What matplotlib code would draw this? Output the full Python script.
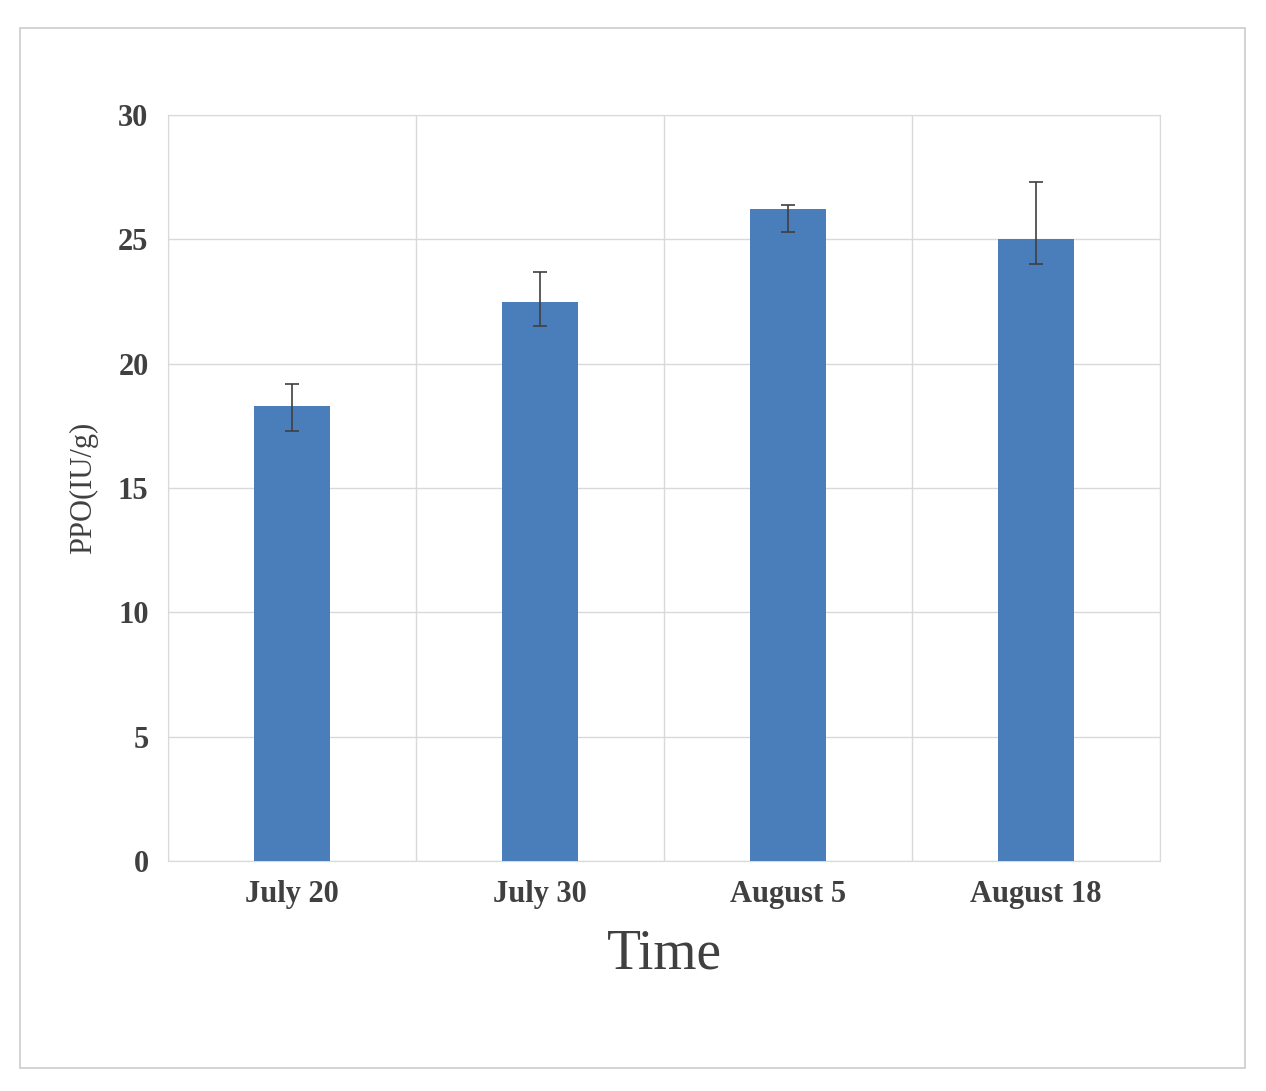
import matplotlib.pyplot as plt
import numpy as np
from matplotlib.patches import Rectangle

dates = ['July 20', 'July 30', 'August 5', 'August 18']
ppo = [18.3, 22.5, 26.2, 25.0]
err_low = [1.0, 1.0, 0.9, 1.0]
err_high = [0.9, 1.2, 0.2, 2.3]

plt.rcParams['font.family'] = 'Liberation Serif'
plt.rcParams['font.weight'] = 'bold'

fig = plt.figure(figsize=(12.66, 10.91), dpi=100)
fig.patches.append(Rectangle((20/1266, 1-1068/1091), 1225/1266, 1040/1091,
                             transform=fig.transFigure, fill=False,
                             edgecolor='#cccccc', linewidth=1.2))
ax = fig.add_axes([168/1266, 1-861/1091, 992/1266, 746/1091])

x = np.arange(len(dates))
ax.bar(x, ppo, width=0.31, color='#4a7ebb', zorder=3)
ax.errorbar(x, ppo, yerr=[err_low, err_high], fmt='none', ecolor='#404040',
            elinewidth=1.2, capsize=5, capthick=1.2, zorder=4)

ax.set_xlim(-0.5, 3.5)
ax.set_ylim(0, 30)
ax.set_yticks(range(0, 31, 5))
ax.set_xticks(x)
ax.set_xticklabels(dates)
ax.set_xticks(np.arange(-0.5, 4, 1), minor=True)
ax.grid(True, which='minor', axis='x', color='#d9d9d9', linewidth=1)
ax.grid(True, which='major', axis='y', color='#d9d9d9', linewidth=1)
ax.tick_params(axis='both', which='both', length=0, labelsize=22, colors='#404040', pad=14)
for s in ax.spines.values():
    s.set_color('#d9d9d9')
ax.set_ylabel('PPO(IU/g)', fontsize=22, color='#404040', labelpad=14)
ax.set_xlabel('Time', fontsize=40, color='#404040', labelpad=14)

fig.savefig('out.png')
